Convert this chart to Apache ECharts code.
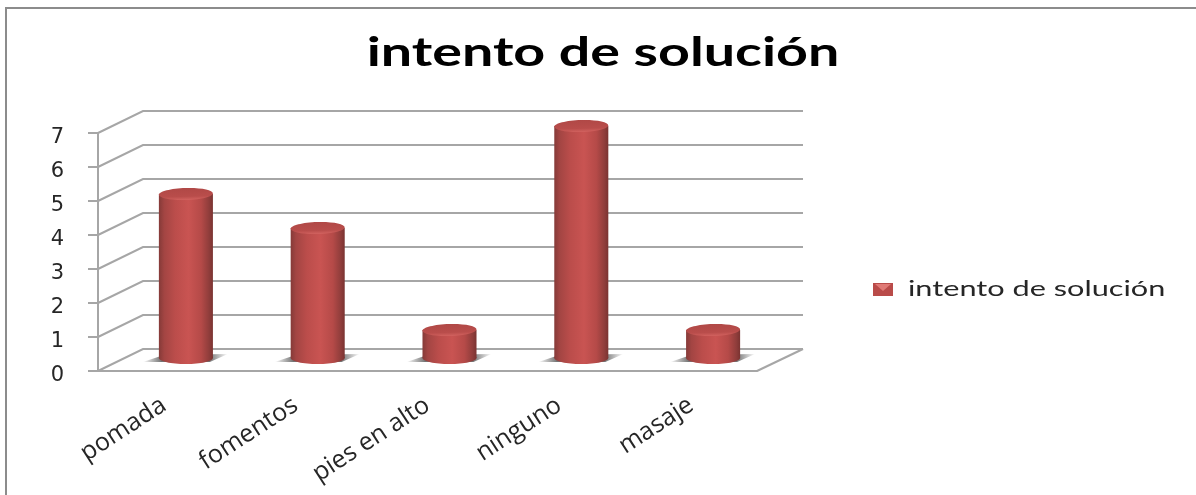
<!DOCTYPE html>
<html>
<head>
<meta charset="utf-8">
<style>html,body{margin:0;padding:0;background:#fff}#chart{width:1196px;height:495px}</style>
<script src="https://cdn.jsdelivr.net/npm/echarts@6/dist/echarts.min.js"></script>
</head>
<body>
<div id="chart"></div>
<script>
// Survey results: what patients tried as a remedy
const chartTitle = 'intento de solución';
const categories = ['pomada', 'fomentos', 'pies en alto', 'ninguno', 'masaje'];
const counts = [5, 4, 1, 7, 1];
const valueTicks = [0, 1, 2, 3, 4, 5, 6, 7];

const LINE = '#a6a6a6';
const TEXT = '#262626';
const DEPTH_X = 45;
const DEPTH_Y = -22;

const chart = echarts.init(document.getElementById('chart'), null, { renderer: 'canvas' });

// Slanted side-wall and floor lines, plus the back wall, running from the front plane
function renderWalls(params, api) {
  const value = api.value(0);
  const y = api.coord([0, value])[1];
  const x0 = params.coordSys.x;
  const x1 = x0 + params.coordSys.width;
  const style = { stroke: LINE, lineWidth: 2, fill: null };
  const children = [{
    type: 'polyline',
    shape: { points: [[x0, y], [x0 + DEPTH_X, y + DEPTH_Y], [x1 + DEPTH_X + 1, y + DEPTH_Y]] },
    style
  }];
  if (value === 0) {
    children.push({
      type: 'line',
      shape: { x1, y1: y, x2: x1 + DEPTH_X + 1, y2: y + DEPTH_Y },
      style
    });
  }
  return { type: 'group', children };
}

// One cylinder: floor shadow, body, top cap
function renderCylinder(params, api) {
  const top = api.coord([api.value(0), api.value(1)]);
  const base = api.coord([api.value(0), 0]);
  const halfBand = api.size([1, 0])[0] / 2;
  const rx = halfBand * 0.41;
  const ry = 6;
  const cx = top[0];
  const baseY = base[1] - 6;
  const body = new echarts.graphic.LinearGradient(0, 0, 1, 0, [
    { offset: 0, color: '#853a38' },
    { offset: 0.1, color: '#a34543' },
    { offset: 0.3, color: '#bb4d4b' },
    { offset: 0.55, color: '#c95452' },
    { offset: 0.78, color: '#b54a48' },
    { offset: 0.93, color: '#8f3d3b' },
    { offset: 1, color: '#7a3331' }
  ]);
  const shadow = new echarts.graphic.LinearGradient(0, 0, 1, 0, [
    { offset: 0, color: 'rgba(100,100,100,0)' },
    { offset: 0.22, color: 'rgba(100,100,100,0.9)' },
    { offset: 0.78, color: 'rgba(100,100,100,0.9)' },
    { offset: 1, color: 'rgba(100,100,100,0)' }
  ]);
  const cap = new echarts.graphic.LinearGradient(0, 0, 0, 1, [
    { offset: 0, color: '#b04846' },
    { offset: 0.7, color: '#b94d4b' },
    { offset: 1, color: '#d2625f' }
  ]);
  return {
    type: 'group',
    children: [
      {
        type: 'polygon',
        shape: { points: [[cx - 43, baseY + 4], [cx - 22, baseY - 3], [cx + 42, baseY - 4], [cx + 24, baseY + 4]] },
        style: { fill: shadow }
      },
      { type: 'rect', shape: { x: cx - rx, y: top[1], width: rx * 2, height: baseY - top[1] }, style: { fill: body } },
      { type: 'ellipse', shape: { cx, cy: baseY, rx, ry }, style: { fill: body } },
      { type: 'ellipse', shape: { cx, cy: top[1], rx, ry }, rotation: 0.03, originX: cx, originY: top[1], style: { fill: cap } }
    ]
  };
}

const option = {
  animation: false,
  backgroundColor: '#fff',
  legend: {
    data: [chartTitle],
    left: 873,
    top: 283,
    padding: 0,
    itemWidth: 20,
    itemHeight: 13,
    icon: 'rect',
    formatter: () => ''
  },
  graphic: [
    { type: 'polyline', shape: { points: [[6, 495], [6, 8], [1196, 8]] }, style: { fill: null, stroke: '#8c8c8c', lineWidth: 2 }, z: 0 },
    { type: 'polygon', shape: { points: [[875, 284], [891, 284], [883, 291]] }, style: { fill: '#e07a76' }, z: 10 },
    // Wide-set heading and legend caption
    {
      type: 'text', x: 603, y: 53, scaleX: 1.39, z: 10,
      style: { text: chartTitle, align: 'center', verticalAlign: 'middle', font: 'bold 40px Lato', fill: '#000' }
    },
    {
      type: 'text', x: 908, y: 289, scaleX: 1.395, z: 10,
      style: { text: chartTitle, align: 'left', verticalAlign: 'middle', font: '22px Lato', fill: TEXT }
    }
  ],
  grid: [
    { left: 98, top: 133, width: 659, height: 238, containLabel: false },
    { left: 120, top: 126, width: 659, height: 238, containLabel: false }
  ],
  xAxis: [
    {
      type: 'category', gridIndex: 0, data: categories, boundaryGap: true,
      axisLine: { lineStyle: { color: LINE, width: 2 } },
      axisTick: { length: 8, lineStyle: { color: LINE, width: 2 } },
      axisLabel: { rotate: 33, margin: 32, interval: 0, fontFamily: 'Open Sans', fontSize: 25, color: TEXT }
    },
    { type: 'category', gridIndex: 1, data: categories, boundaryGap: true, show: false }
  ],
  yAxis: [
    {
      type: 'value', gridIndex: 0, min: 0, max: 7, interval: 1,
      axisLine: { show: true, lineStyle: { color: LINE, width: 2 } },
      axisTick: { show: true, length: 10, lineStyle: { color: LINE, width: 2 } },
      splitLine: { show: false },
      axisLabel: { margin: 34, verticalAlign: 'top', lineHeight: 10, fontFamily: 'DejaVu Sans', fontSize: 21, color: TEXT,
        formatter: (v) => (valueTicks.includes(v) ? String(v) : '') }
    },
    { type: 'value', gridIndex: 1, min: 0, max: 7, interval: 1, show: false }
  ],
  series: [
    {
      type: 'custom', name: 'walls', xAxisIndex: 0, yAxisIndex: 0, silent: true, z: 1,
      clip: false, data: valueTicks.map((v) => [v]), renderItem: renderWalls,
      encode: { y: 0 }
    },
    {
      type: 'custom', name: chartTitle, xAxisIndex: 1, yAxisIndex: 1, z: 3,
      clip: false, itemStyle: { color: '#b94b49' },
      data: counts.map((v, i) => [i, v]), renderItem: renderCylinder,
      encode: { x: 0, y: 1 }
    }
  ]
};
chart.setOption(option);
</script>
</body>
</html>
